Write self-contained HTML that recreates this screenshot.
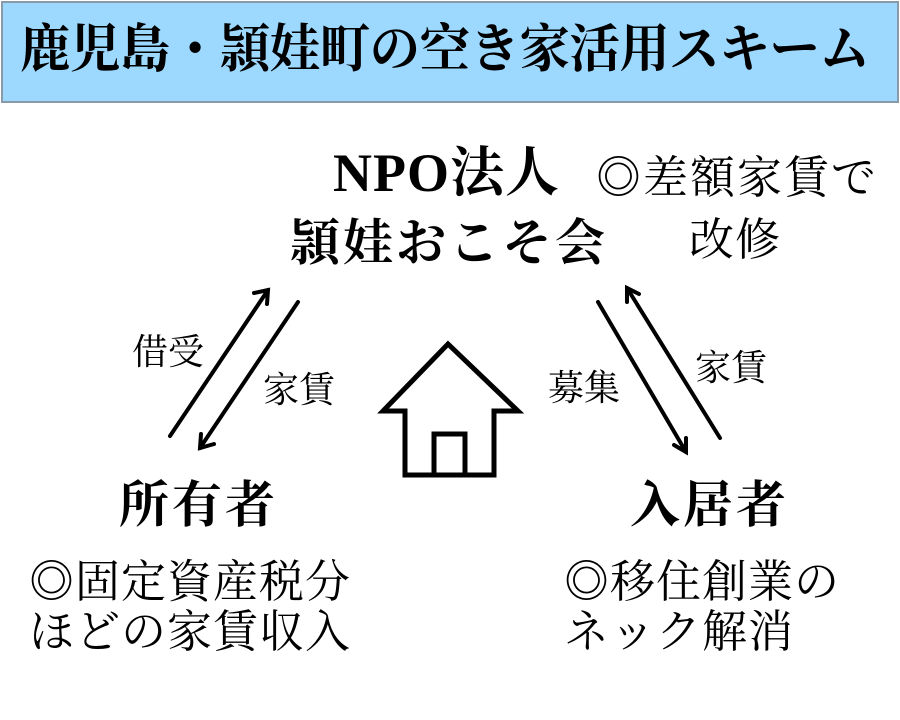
<!DOCTYPE html>
<html><head><meta charset="utf-8"><style>
body{margin:0;width:900px;height:720px;background:#fff;position:relative;overflow:hidden;font-family:"Liberation Serif","Noto Serif CJK SC",serif;color:#000}
.t{position:absolute;white-space:nowrap;line-height:1}
.b{font-weight:bold}
#title{position:absolute;left:1px;top:1px;width:894px;height:98px;background:#9dd9ff;border:2px solid #8a9aa8;}
</style></head><body>
<div id="title"></div>
<div class="t b" style="left:20px;top:25px;font-size:52px;letter-spacing:-0.5px;transform:scaleX(0.97);transform-origin:0 0">鹿児島・頴娃町の空き家活用スキーム</div>
<div class="t b" style="left:333px;top:146px;font-size:54px;letter-spacing:1px">NPO法人</div>
<div class="t b" style="left:290px;top:218px;font-size:50px;letter-spacing:3px">頴娃おこそ会</div>
<div class="t" style="left:596px;top:156px;font-size:45px;letter-spacing:2px">◎差額家賃で</div>
<div class="t" style="left:689px;top:218px;font-size:45px;letter-spacing:1px">改修</div>
<div class="t b" style="left:119px;top:480px;font-size:50px;letter-spacing:3px">所有者</div>
<div class="t" style="left:29px;top:560px;font-size:45px;letter-spacing:1px">◎固定資産税分</div>
<div class="t" style="left:29px;top:610px;font-size:45px;letter-spacing:1px">ほどの家賃収入</div>
<div class="t b" style="left:630px;top:480px;font-size:50px;letter-spacing:3px">入居者</div>
<div class="t" style="left:564px;top:560px;font-size:45px;letter-spacing:1px">◎移住創業の</div>
<div class="t" style="left:564px;top:610px;font-size:45px;letter-spacing:1px">ネック解消</div>
<div class="t" style="left:132px;top:334px;font-size:36px">借受</div>
<div class="t" style="left:263px;top:372px;font-size:36px">家賃</div>
<div class="t" style="left:548px;top:370px;font-size:36px">募集</div>
<div class="t" style="left:695px;top:350px;font-size:36px">家賃</div>
<svg width="900" height="720" style="position:absolute;left:0;top:0" fill="none" stroke="#000" stroke-width="4" stroke-linecap="round">
<line x1="170" y1="436" x2="268" y2="290"/><polyline points="254,293 268,290 267,304"/>
<line x1="298" y1="302" x2="200" y2="448"/><polyline points="201,434 200,448 214,444"/>
<line x1="598" y1="302" x2="686" y2="452"/><polyline points="674,445 686,452 686,438"/>
<line x1="720" y1="438" x2="627" y2="288"/><polyline points="627,302 627,288 639,294"/>
<path d="M448,344 L518,411 L494,411 L494,475 L405,475 L405,411 L383,411 Z" stroke-width="5" stroke-linejoin="miter"/>
<path d="M434,475 L434,434 L465,434 L465,475" stroke-width="5"/>
</svg>
</body></html>
